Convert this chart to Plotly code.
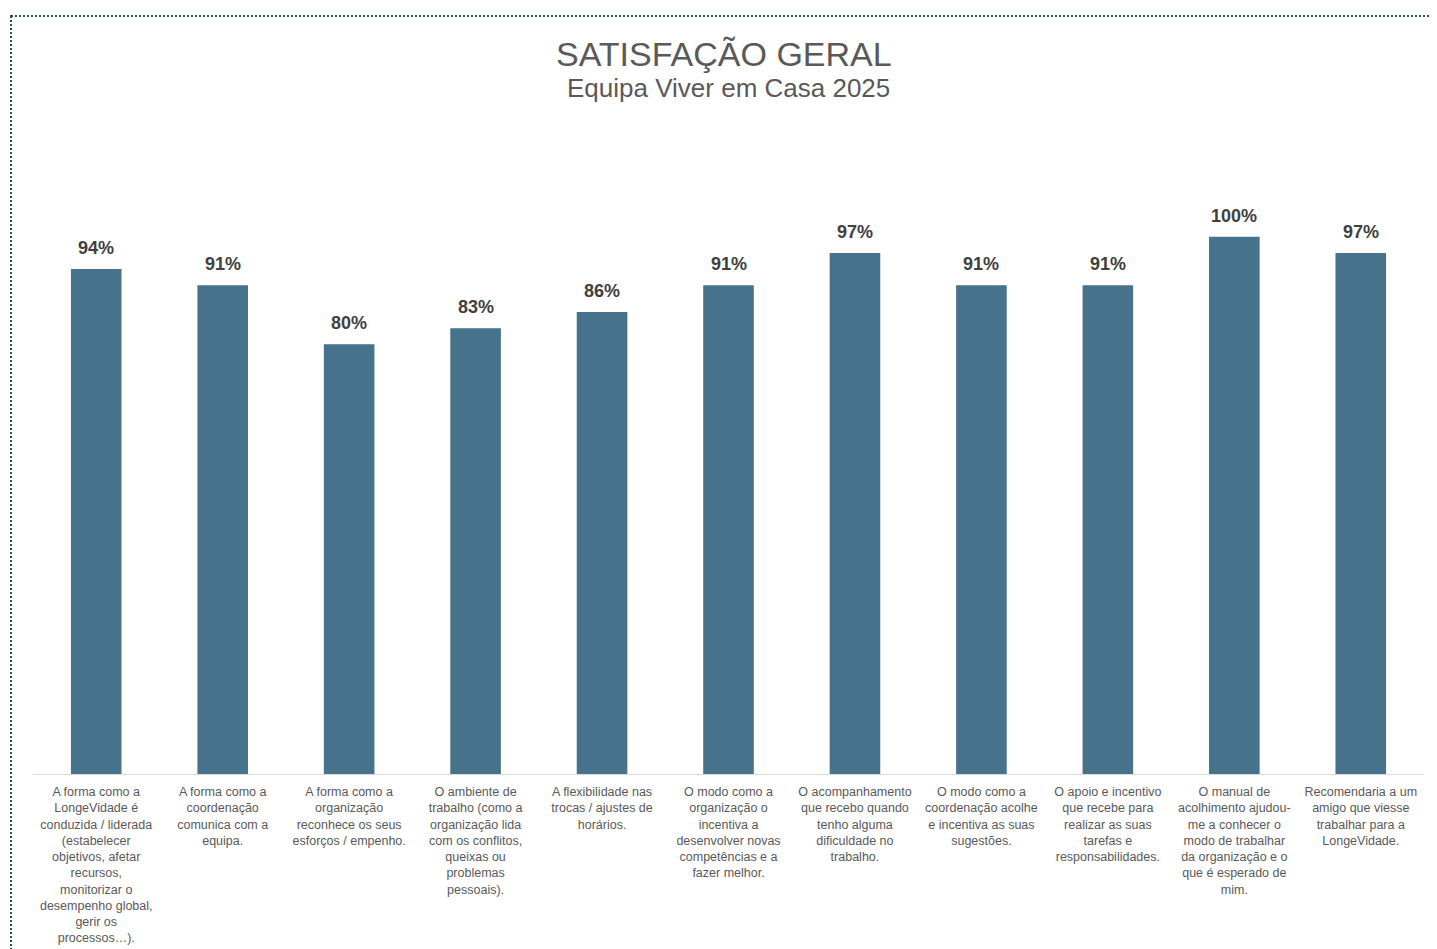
import plotly.graph_objects as go

categories = [
    "A forma como a<br>LongeVidade é<br>conduzida / liderada<br>(estabelecer<br>objetivos, afetar<br>recursos,<br>monitorizar o<br>desempenho global,<br>gerir os<br>processos…).",
    "A forma como a<br>coordenação<br>comunica com a<br>equipa.",
    "A forma como a<br>organização<br>reconhece os seus<br>esforços / empenho.",
    "O ambiente de<br>trabalho (como a<br>organização lida<br>com os conflitos,<br>queixas ou<br>problemas<br>pessoais).",
    "A flexibilidade nas<br>trocas / ajustes de<br>horários.",
    "O modo como a<br>organização o<br>incentiva a<br>desenvolver novas<br>competências e a<br>fazer melhor.",
    "O acompanhamento<br>que recebo quando<br>tenho alguma<br>dificuldade no<br>trabalho.",
    "O modo como a<br>coordenação acolhe<br>e incentiva as suas<br>sugestões.",
    "O apoio e incentivo<br>que recebe para<br>realizar as suas<br>tarefas e<br>responsabilidades.",
    "O manual de<br>acolhimento ajudou-<br>me a conhecer o<br>modo de trabalhar<br>da organização e o<br>que é esperado de<br>mim.",
    "Recomendaria a um<br>amigo que viesse<br>trabalhar para a<br>LongeVidade.",
]
values = [0.94, 0.91, 0.80, 0.83, 0.86, 0.91, 0.97, 0.91, 0.91, 1.00, 0.97]
value_labels = ["94%", "91%", "80%", "83%", "86%", "91%", "97%", "91%", "91%", "100%", "97%"]

title_text = "SATISFAÇÃO GERAL"
subtitle_text = "Equipa Viver em Casa 2025"

FONT = "Liberation Sans, Arial, sans-serif"
BAR_COLOR = "#46728B"

# page offset compensation (body margin); rendered height ends up H - OY
OX, OY = 8, 8
W, H = 1437, 949
H_EFF = H - OY
ml = 33 - OX
plot_right = 1424 - OX
mr = W - plot_right
base_y = 774 - OY
unit = 537.0
ytop = 1.05
mt = int(round(base_y - ytop * unit))
mb = H_EFF - base_y
pw = W - ml - mr
ph = H_EFF - mt - mb

def px_x(px):
    return (px - OX - ml) / pw

def px_y(py):
    return (H_EFF - mb - (py - OY)) / ph

x_idx = list(range(len(categories)))

fig = go.Figure()
fig.add_trace(go.Bar(
    x=x_idx,
    y=values,
    marker=dict(color=BAR_COLOR, line=dict(width=0)),
    hoverinfo="skip",
))

annotations = []
for i, (v, lab) in enumerate(zip(values, value_labels)):
    annotations.append(dict(
        x=i, y=v, xref="x", yref="y", text=f"<b>{lab}</b>",
        showarrow=False, yanchor="bottom", yshift=9,
        font=dict(family=FONT, size=18, color="#404040"),
    ))

annotations.append(dict(
    x=px_x(723.5), y=px_y(32.5), xref="paper", yref="paper", yanchor="top",
    text=title_text, showarrow=False,
    font=dict(family=FONT, size=34, color="#595959"),
))
annotations.append(dict(
    x=px_x(728.5), y=px_y(71), xref="paper", yref="paper", yanchor="top",
    text=subtitle_text, showarrow=False,
    font=dict(family=FONT, size=26, color="#595959"),
))

fig.update_layout(
    width=W, height=H,
    margin=dict(l=ml, r=mr, t=mt, b=mb, pad=0),
    paper_bgcolor="white",
    plot_bgcolor="white",
    bargap=0.6,
    showlegend=False,
    annotations=annotations,
    font=dict(family=FONT, color="#595959"),
    shapes=[dict(
        type="rect", xref="paper", yref="paper",
        x0=px_x(11), x1=px_x(1460),
        y0=px_y(16), y1=px_y(980),
        line=dict(color="#1F4E79", width=2, dash="2px,2px"),
        fillcolor="rgba(0,0,0,0)", layer="above",
    )],
    xaxis=dict(
        tickmode="array", tickvals=x_idx, ticktext=categories,
        tickangle=0, showgrid=False, zeroline=False,
        showline=True, linecolor="#D9D9D9", linewidth=1,
        ticks="", ticklabelstandoff=6,
        tickfont=dict(family=FONT, size=12.5, color="#595959"),
        range=[-0.5, len(categories) - 0.5],
    ),
    yaxis=dict(
        range=[0, ytop], visible=False, showgrid=False, zeroline=False,
    ),
)

fig.write_html("out.html")
